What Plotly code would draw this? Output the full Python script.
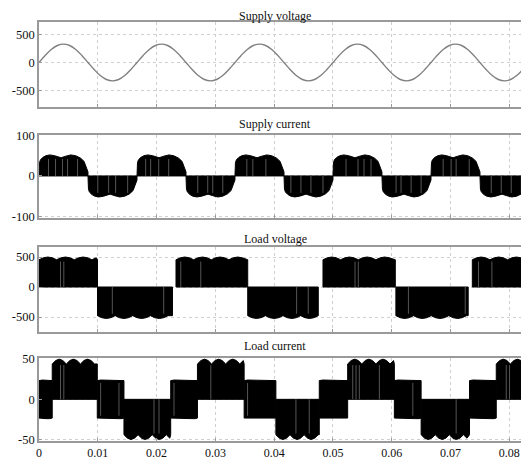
import plotly.graph_objects as go

# ---------------- data ----------------
x_range = [0, 0.083]
x_ticks = [0, 0.01, 0.02, 0.03, 0.04, 0.05, 0.06, 0.07, 0.08]
x_tick_text = ["0", "0.01", "0.02", "0.03", "0.04", "0.05", "0.06", "0.07", "0.08"]

titles = ["Supply voltage", "Supply current", "Load voltage", "Load current"]

# Supply voltage (V), one sample every 1/960 s
sv_step = 1 / 960
supply_voltage = [
    0, 124, 230, 300, 325, 300, 230, 124, 0, -124, -230, -300, -325, -300, -230, -124,
    0, 124, 230, 300, 325, 300, 230, 124, 0, -124, -230, -300, -325, -300, -230, -124,
    0, 124, 230, 300, 325, 300, 230, 124, 0, -124, -230, -300, -325, -300, -230, -124,
    0, 124, 230, 300, 325, 300, 230, 124, 0, -124, -230, -300, -325, -300, -230, -124,
    0, 124, 230, 300, 325, 300, 230, 124, 0, -124, -230, -300, -325, -300, -230, -124,
    0,
]

# Supply current: half-cycle blocks (start, end, sign) and the envelope of one half cycle
sc_start = [0, 0.00833, 0.01667, 0.025, 0.03333, 0.04167, 0.05, 0.05833, 0.06667, 0.075]
sc_end = [0.00833, 0.01667, 0.025, 0.03333, 0.04167, 0.05, 0.05833, 0.06667, 0.075, 0.08333]
sc_sign = [1, -1, 1, -1, 1, -1, 1, -1, 1, -1]
sc_shape_frac = [0.0, 0.01, 0.03, 0.08, 0.14, 0.22, 0.32, 0.45, 0.55, 0.65, 0.75, 0.85, 0.92, 0.97, 1.0]
sc_shape_mag = [20, 33, 40, 46, 50, 52, 50, 45, 49, 52, 50, 44, 36, 22, 10]
sc_stripes = [0.00162, 0.00281, 0.0040, 0.00486, 0.00656, 0.0100, 0.01184, 0.01303, 0.01508,
              0.01814, 0.01899, 0.02036, 0.02206, 0.0270, 0.0287, 0.02955, 0.03126, 0.03535,
              0.03637, 0.03859, 0.04284, 0.04455, 0.04625, 0.0483, 0.05222, 0.05426, 0.05528,
              0.05647, 0.06073, 0.06158, 0.06329, 0.06499, 0.06874, 0.0701, 0.07095, 0.07317,
              0.07692, 0.07862, 0.08032, 0.08203]

# Load voltage blocks
lv_start = [0, 0.00995, 0.0233, 0.0355, 0.0483, 0.0607, 0.0737]
lv_end = [0.00995, 0.0227, 0.0355, 0.0475, 0.0606, 0.0730, 0.083]
lv_upper = [500, 0, 500, 0, 500, 0, 500]
lv_lower = [0, -525, 0, -525, 0, -525, 0]
lv_bump_width = 0.0030
lv_bump_frac = [0.0, 0.25, 0.5, 0.75]
lv_bump_fac = [0.91, 0.975, 1.0, 0.975]
lv_stripes = [0.00366, 0.00422, 0.01247, 0.02121, 0.02411, 0.02751, 0.04382, 0.04579,
              0.05375, 0.05431, 0.06283, 0.07249, 0.07475, 0.07703]

# Load current blocks
lc_start = [0, 0.00225, 0.00991, 0.01445, 0.0224, 0.02695, 0.03489, 0.04029, 0.04767,
            0.0525, 0.06044, 0.06499, 0.07322, 0.07777]
lc_end = [0.00225, 0.00991, 0.01445, 0.0224, 0.02695, 0.03489, 0.04029, 0.04767, 0.0525,
          0.06044, 0.06499, 0.07322, 0.07777, 0.083]
lc_upper = [24, 50, 24, 0, 24, 50, 24, 0, 24, 50, 24, 0, 24, 50]
lc_lower = [-24, 0, -24, -50, -24, 0, -24, -50, -24, 0, -24, -50, -24, 0]
lc_bump_width = 0.0024
lc_bump_frac = [0.0, 0.25, 0.5, 0.75]
lc_bump_fac = [0.88, 0.965, 1.0, 0.965]
lc_mid_fac = [0.97, 1.0, 1.0, 1.0]
lc_stripes = [0.00366, 0.00422, 0.01048, 0.0136, 0.01956, 0.02041, 0.02296, 0.02922,
              0.03547, 0.0437, 0.04596, 0.05336, 0.05392, 0.05448, 0.05789, 0.06358,
              0.07095, 0.07947, 0.08003]

y_ranges = [[-780, 720], [-104, 102], [-745, 672], [-51.4, 51]]
y_ticks = [[-500, 0, 500], [-100, 0, 100], [-500, 0, 500], [-50, 0, 50]]
y_tick_text = [["-500", "0", "500"], ["-100", "0", "100"], ["-500", "0", "500"], ["-50", "0", "50"]]

# ---------------- layout geometry ----------------
# The page body adds an 8px offset, so the figure is drawn 8px smaller and
# all screen pixel positions are shifted by that amount.
OFF = 8
W, H = 529 - OFF, 461 - OFF
panel_screen = [(21.7, 106.7), (134.7, 218.0), (246.7, 331.7), (358.3, 440.7)]
title_top_screen = [8, 116, 231, 338]
FONT = "Liberation Serif"
STRIPE = "#555555"

fig = go.Figure()


def edge(t0, t1, level, bw, bfrac, bfac):
    if level == 0:
        return [t0, t1], [0, 0]
    xs, ys = [], []
    k = 0
    while True:
        done = False
        for f, g in zip(bfrac, bfac):
            t = t0 + (k + f) * bw
            if t >= t1:
                done = True
                break
            xs.append(t)
            ys.append(level * g)
        if done:
            break
        k += 1
    xs.append(t1)
    ys.append(level * bfac[0])
    return xs, ys


def add_block(t0, t1, up, lo, bw, bfrac, bfac, axis_idx):
    ux, uy = edge(t0, t1, up, bw, bfrac, bfac)
    lx, ly = edge(t0, t1, lo, bw, bfrac, bfac)
    x = [t0] + ux + lx[::-1] + [t0]
    y0 = lo * bfac[0] if lo else 0
    y = [y0] + uy + ly[::-1] + [y0]
    fig.add_trace(go.Scatter(x=x, y=y, mode="lines", fill="toself", fillcolor="black",
                             line=dict(color="black", width=1), hoverinfo="skip",
                             showlegend=False, xaxis=f"x{axis_idx}", yaxis=f"y{axis_idx}"))


def add_stripes(times, starts, ends, ups, los, axis_idx, shrink=0.85):
    xs, ys = [], []
    for t in times:
        for s, e, u, l in zip(starts, ends, ups, los):
            if s <= t < e:
                xs += [t, t, None]
                ys += [l * shrink, u * shrink, None]
                break
    fig.add_trace(go.Scatter(x=xs, y=ys, mode="lines", line=dict(color=STRIPE, width=1),
                             hoverinfo="skip", showlegend=False,
                             xaxis=f"x{axis_idx}", yaxis=f"y{axis_idx}"))


# Panel 1: supply voltage
sv_t = [i * sv_step for i in range(len(supply_voltage))]
fig.add_trace(go.Scatter(x=sv_t, y=supply_voltage, mode="lines",
                         line=dict(color="#808080", width=1.4, shape="spline"),
                         showlegend=False, xaxis="x1", yaxis="y1"))

# Panel 2: supply current
for s, e, sg in zip(sc_start, sc_end, sc_sign):
    d = e - s
    xs = [s + f * d for f in sc_shape_frac]
    ys = [sg * m for m in sc_shape_mag]
    x = [s] + xs + [e, s]
    y = [0] + ys + [0, 0]
    fig.add_trace(go.Scatter(x=x, y=y, mode="lines", fill="toself", fillcolor="black",
                             line=dict(color="black", width=1), hoverinfo="skip",
                             showlegend=False, xaxis="x2", yaxis="y2"))
sc_up = [42 if sg > 0 else 0 for sg in sc_sign]
sc_lo = [0 if sg > 0 else -42 for sg in sc_sign]
add_stripes(sc_stripes, sc_start, sc_end, sc_up, sc_lo, 2, shrink=1.0)

# Panel 3: load voltage
for s, e, u, l in zip(lv_start, lv_end, lv_upper, lv_lower):
    add_block(s, e, u, l, lv_bump_width, lv_bump_frac, lv_bump_fac, 3)
add_stripes(lv_stripes, lv_start, lv_end, lv_upper, lv_lower, 3)

# Panel 4: load current
for s, e, u, l in zip(lc_start, lc_end, lc_upper, lc_lower):
    fac = lc_mid_fac if (u and l) else lc_bump_fac
    add_block(s, e, u, l, lc_bump_width, lc_bump_frac, fac, 4)
add_stripes(lc_stripes, lc_start, lc_end, lc_upper, lc_lower, 4)

L = 38.5 - OFF
R = W - (527 - OFF)
layout = dict(width=W, height=H, margin=dict(l=L, r=R, t=0, b=0, pad=0, autoexpand=False),
              plot_bgcolor="white", paper_bgcolor="white",
              font=dict(family=FONT, size=12, color="#111"))
for i in range(4):
    top, bot = panel_screen[i]
    top -= OFF
    bot -= OFF
    ax = dict(domain=[1 - bot / H, 1 - top / H], range=y_ranges[i], tickvals=y_ticks[i],
              ticktext=y_tick_text[i], showgrid=True, gridcolor="#cfcfcf", griddash="dot",
              gridwidth=1, zeroline=False, showline=True, mirror=True, linecolor="#9a9a9a",
              linewidth=1.5, ticks="inside", ticklen=3, tickcolor="#9a9a9a",
              tickfont=dict(family=FONT, size=12.5, color="#111"), fixedrange=True,
              automargin=False, anchor=f"x{i+1}")
    xa = dict(domain=[0, 1], range=x_range, tickvals=x_ticks, ticktext=x_tick_text,
              showticklabels=(i == 3), showgrid=True, gridcolor="#cfcfcf", griddash="dot",
              gridwidth=1, zeroline=False, showline=True, mirror=True, linecolor="#9a9a9a",
              linewidth=1.5, ticks="inside", ticklen=3, tickcolor="#9a9a9a",
              tickfont=dict(family=FONT, size=12, color="#111"), automargin=False,
              anchor=f"y{i+1}")
    layout["yaxis" if i == 0 else f"yaxis{i+1}"] = ax
    layout["xaxis" if i == 0 else f"xaxis{i+1}"] = xa

annots = []
for i, t in enumerate(titles):
    annots.append(dict(text=t, x=(275 - OFF - L) / (W - L - R), y=1 - (title_top_screen[i] - OFF) / H,
                       xref="paper", yref="paper", xanchor="center", yanchor="top",
                       borderpad=0, showarrow=False,
                       font=dict(family=FONT, size=12, color="#111")))
layout["annotations"] = annots
fig.update_layout(**layout)

fig.write_html("out.html")
